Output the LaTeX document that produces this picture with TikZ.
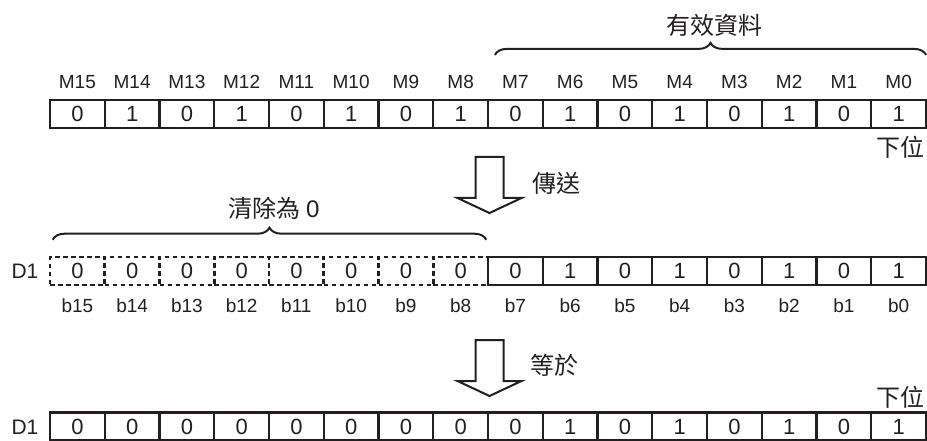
\documentclass[tikz,border=0pt]{standalone}
\usepackage{fontspec}
\setmainfont{Liberation Sans}
\newfontfamily\cjk{Noto Sans CJK TC}
\usepackage{tikz}
\usetikzlibrary{decorations.pathreplacing,calc}
\definecolor{regline}{HTML}{231F20}
\definecolor{regtext}{HTML}{231F20}

\begin{document}
\begin{tikzpicture}[x=1pt,y=-1pt,
  bit/.style={draw=regline,line width=2.2pt,minimum width=54.75pt,minimum height=28pt,inner sep=0pt,font=\fontsize{22}{22}\selectfont,text=regtext},
  clr/.style={bit,dash pattern=on 4.5pt off 3.5pt,line width=2.6pt},
  lbl/.style={font=\fontsize{19}{20}\selectfont,text=regtext,inner sep=0pt},
  cjklbl/.style={font=\cjk\fontsize{24}{26}\selectfont,text=regtext,inner sep=0pt},
  brc/.style={decorate,decoration={brace,amplitude=12pt},line width=2pt,draw=regline},
  blk/.style={draw=regline,line width=2pt,line join=miter,fill=white}]
  \useasboundingbox (0,0) rectangle (927,441);
  % source bits M15..M0
  \foreach \k in {0,...,15}{
    \pgfmathsetmacro\cx{50+54.75*(15-\k)+27.375}
    \pgfmathtruncatemacro\v{1-mod(\k,2)}
    \node[bit] (a\k) at (\cx,114) {\v};
    \node[lbl] (ma\k) at (\cx,82) {M\k};
  }
  % D1 after transfer
  \foreach \k in {8,...,15}{
    \pgfmathsetmacro\cx{50+54.75*(15-\k)+27.375}
    \node[clr] (b\k) at (\cx,271) {0};
  }
  \foreach \k in {0,...,15}{
    \pgfmathsetmacro\cx{50+54.75*(15-\k)+27.375}
    \pgfmathtruncatemacro\v{\k<8 ? 1-mod(\k,2) : 0}
    \ifnum\k<8 \node[bit] (b\k) at (\cx,271) {\v}; \fi
    \node[lbl] (mb\k) at (\cx,306) {b\k};
    \node[bit] (c\k) at (\cx,426.5) {\v};
  }
  \node[lbl,font=\fontsize{21}{22}\selectfont] (d1) at (25,271) {D1};
  \node[lbl,font=\fontsize{21}{22}\selectfont] (d2) at (25,427) {D1};
  % braces
  \draw[brc] ($(a7.north west)+(8,-44)$) -- ($(a0.north east)+(-1,-44)$);
  \node[cjklbl] (valid) at (714,25) {有效資料};
  \draw[brc] ($(b15.north west)+(4,-16)$) -- ($(b8.north east)+(-3,-16)$);
  \node[cjklbl] (clear) at (274,208) {清除為 {\fontspec{Liberation Sans}0}};
  % block arrows
  \coordinate (s1) at (489.5,157);
  \coordinate (s2) at (489.5,340);
  \foreach \c in {s1,s2}
    \draw[blk] (\c) ++(-14,0) -- ++(0,41) -- ++(-18,0) -- ++(32,15) -- ++(32,-15) -- ++(-18,0) -- ++(0,-41) -- cycle;
  \node[cjklbl] (send) at (556,183) {傳送};
  \node[cjklbl] (eqv) at (554,365) {等於};
  \node[cjklbl] (low1) at (900,147) {下位};
  \node[cjklbl] (low2) at (900,397) {下位};
\end{tikzpicture}
\end{document}
